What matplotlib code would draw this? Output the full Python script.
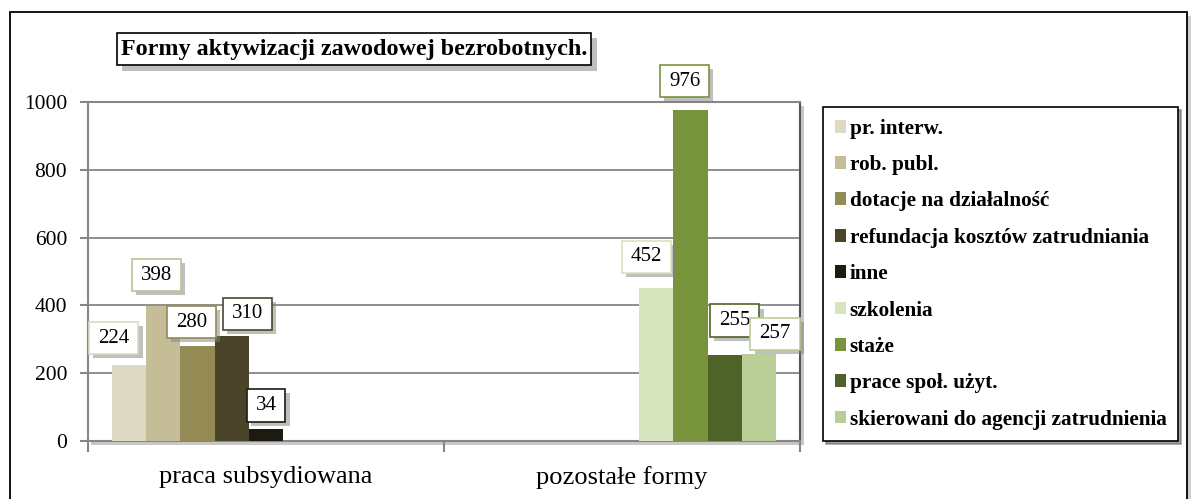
import matplotlib.pyplot as plt
from matplotlib.patches import Rectangle
from matplotlib import patheffects as pe

plt.rcParams["font.family"] = ["Liberation Serif", "DejaVu Serif"]

categories = ["praca subsydiowana", "pozostałe formy"]
series_names = [
    "pr. interw.",
    "rob. publ.",
    "dotacje na działalność",
    "refundacja kosztów zatrudniania",
    "inne",
    "szkolenia",
    "staże",
    "prace społ. użyt.",
    "skierowani do agencji zatrudnienia",
]
# one value per category (0 = no bar in that group)
pr_interw = [224, 0]
rob_publ = [398, 0]
dotacje = [280, 0]
refundacja = [310, 0]
inne = [34, 0]
szkolenia = [0, 452]
staze = [0, 976]
prace_spol = [0, 255]
skierowani = [0, 257]
series_values = [pr_interw, rob_publ, dotacje, refundacja, inne,
                 szkolenia, staze, prace_spol, skierowani]

colors = ["#DDD9C3", "#C4BD97", "#948A54", "#4A452A", "#1D1B11",
          "#D7E4BD", "#77933C", "#4F6228", "#BACF97"]
# manual placement of the value boxes (pixels from the top of the bar)
label_offsets = [(-15, 27), (-7, 31), (-6, 24), (16, 22), (0, 24),
                 (-10, 31), (-6, 29), (10, 34), (16, 20)]

W, H = 1195, 499
fig = plt.figure(figsize=(W / 100, H / 100), dpi=100)

# outer chart frame with a small shadow
fig.patches.append(Rectangle((14 / W, -0.05), 1177 / W, (H - 16) / H + 0.05,
                             transform=fig.transFigure, facecolor="#b0b0b0",
                             edgecolor="none", alpha=0.6, zorder=-3))
fig.patches.append(Rectangle((10 / W, -0.05), 1177 / W, (H - 12) / H + 0.05,
                             transform=fig.transFigure, facecolor="white",
                             edgecolor="black", lw=1.3, zorder=-2))

ax_l, ax_r, ax_t, ax_b = 88, 800, 102, 441
fig.patches.append(Rectangle(((ax_l + 3) / W, (H - ax_b - 4) / H),
                             (ax_r - ax_l + 1) / W, (ax_b - ax_t) / H,
                             transform=fig.transFigure, facecolor="#c8c8c8",
                             edgecolor="none", zorder=-1))
ax = fig.add_axes([ax_l / W, (H - ax_b) / H, (ax_r - ax_l) / W, (ax_b - ax_t) / H])

n = len(series_values)
bw = 0.0963
for i, (name, vals, col) in enumerate(zip(series_names, series_values, colors)):
    xs = [c + (i - (n - 1) / 2) * bw for c in range(len(categories))]
    ax.bar(xs, vals, width=bw, color=col, label=name, zorder=3)
    for x, v in zip(xs, vals):
        if v == 0:
            continue
        dx, dy = label_offsets[i]
        t = ax.annotate(f"{v}", (x, v), xytext=(dx, dy), textcoords="offset pixels",
                        ha="center", va="center", fontsize=15, zorder=5,
                        bbox=dict(boxstyle="square,pad=0.43", mutation_aspect=0.75,
                                  fc="white", ec=col, lw=1.2))
        t.get_bbox_patch().set_path_effects(
            [pe.SimplePatchShadow(offset=(3, -3), shadow_rgbFace="#808080", alpha=0.5),
             pe.Normal()])

ax.set_xlim(-0.5, 1.5)
ax.set_ylim(0, 1000)
ax.set_yticks(range(0, 1001, 200))
ax.yaxis.grid(True, color="#868686", lw=1.3, zorder=0)
ax.set_xticks(range(len(categories)))
ax.set_xticklabels(categories, fontsize=19)
ax.set_xticks([-0.5, 0.5, 1.5], minor=True)
ax.tick_params(axis="x", which="major", length=0, pad=18)
ax.tick_params(axis="x", which="minor", length=8, width=1.5, color="#868686", direction="out")
ax.tick_params(axis="y", labelsize=15.5, length=6, width=1.5, color="#868686", pad=9)
for s in ax.spines.values():
    s.set_color("#868686")
    s.set_linewidth(1.5)
ax.spines["right"].set_color("#555555")

leg = fig.legend(loc="upper left", bbox_to_anchor=(823 / W, 1 - 107 / H),
                 prop={"weight": "bold", "size": 15.3}, frameon=True, fancybox=False,
                 shadow=True, edgecolor="black", handlelength=0.55, handleheight=0.55,
                 handletextpad=0.15, labelspacing=0.77, borderpad=0.55,
                 borderaxespad=0)
leg.get_frame().set_linewidth(1.2)

title = fig.text(354 / W, 1 - 49 / H, "Formy aktywizacji zawodowej bezrobotnych.",
                 ha="center", va="center", fontsize=17.4, fontweight="bold",
                 bbox=dict(boxstyle="square,pad=0.17", mutation_aspect=1.4,
                           fc="white", ec="black", lw=1.2))
title.get_bbox_patch().set_path_effects(
    [pe.SimplePatchShadow(offset=(4, -4), shadow_rgbFace="#808080", alpha=0.5), pe.Normal()])

fig.savefig("out.png", dpi=100)
